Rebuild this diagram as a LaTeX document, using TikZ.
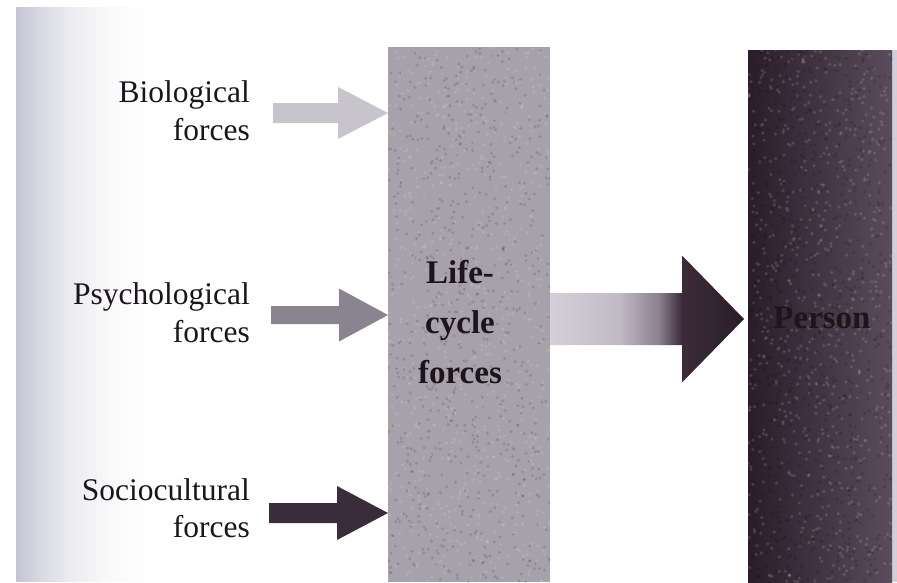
\documentclass[tikz,border=0pt]{standalone}
\usepackage{fontspec}
\setmainfont{Liberation Serif}
\usetikzlibrary{calc}
\definecolor{inkc}{HTML}{1C161B}
\definecolor{biocol}{HTML}{C8C4CC}
\definecolor{psycol}{HTML}{8A8490}
\definecolor{soccol}{HTML}{3A2C3A}
\definecolor{lifecol}{HTML}{A7A1AB}
\definecolor{perL}{HTML}{2B1C29}
\definecolor{perR}{HTML}{5A4C5C}
\definecolor{rightstrip}{HTML}{D2CED6}
\definecolor{edgeA}{HTML}{C4C4D4}
\definecolor{baA}{HTML}{D4D0D8}
\definecolor{baB}{HTML}{C0BAC4}
\definecolor{baC}{HTML}{8A8090}
\definecolor{baD}{HTML}{3C2C3A}
\definecolor{baE}{HTML}{2A1C28}
\pgfdeclarehorizontalshading{bigarrowshade}{100bp}{color(0bp)=(baA); color(25bp)=(baA); color(43bp)=(baB); color(53bp)=(baC); color(59bp)=(baD); color(75bp)=(baE); color(100bp)=(baE)}
% #1 style, #2 tip, #3 total length, #4 head length, #5 shaft half width, #6 head half width
\newcommand\blockarrow[6]{%
  \path[#1] ($(#2)+(-#3,-#5)$) -- ($(#2)+(-#4,-#5)$) -- ($(#2)+(-#4,-#6)$) -- (#2)
    -- ($(#2)+(-#4,#6)$) -- ($(#2)+(-#4,#5)$) -- ($(#2)+(-#3,#5)$) -- cycle;}
\begin{document}
\begin{tikzpicture}[x=1pt,y=-1pt,
  lbl/.style={font=\fontsize{31.5}{38}\selectfont, text=inkc, inner sep=0pt},
  boxlbl/.style={font=\fontsize{33}{50}\selectfont\bfseries, text=inkc, inner sep=0pt},
  panel/.style={rectangle, inner sep=0pt, anchor=north west},
  grain/.style={opacity=0.13},
]
\useasboundingbox (0,0) rectangle (897,582);
\fill[white] (0,0) rectangle (897,582);
% page edge shadow of the scan
\foreach \k in {0,...,59}{
  \pgfmathtruncatemacro\shadepct{100*(1-\k/60)^3}
  \fill[edgeA!\shadepct!white] (16+3*\k,7) rectangle (16+3*\k+3.4,582);
}
\fill[rightstrip] (891,50) rectangle (897,582);

% panels
\node[panel, fill=lifecol, minimum width=162pt, minimum height=535pt] (life) at (388,47) {};
\node[panel, left color=perL, right color=perR, minimum width=144pt, minimum height=532pt] (person) at (748,50) {};

% scan grain
\pgfmathsetseed{7}
\begin{scope}
  \clip (life.north west) rectangle (life.south east);
  \foreach \i in {1,...,700}{
    \pgfmathsetmacro\xx{388+162*rnd}\pgfmathsetmacro\yy{47+535*rnd}
    \fill[black, grain] (\xx,\yy) circle (1.6pt);
    \pgfmathsetmacro\xx{388+162*rnd}\pgfmathsetmacro\yy{47+535*rnd}
    \fill[white, grain] (\xx,\yy) circle (1.6pt);
  }
\end{scope}
\begin{scope}
  \clip (person.north west) rectangle (person.south east);
  \foreach \i in {1,...,700}{
    \pgfmathsetmacro\xx{748+144*rnd}\pgfmathsetmacro\yy{50+532*rnd}
    \fill[white, grain] (\xx,\yy) circle (1.8pt);
    \pgfmathsetmacro\xx{748+144*rnd}\pgfmathsetmacro\yy{50+532*rnd}
    \fill[black, grain] (\xx,\yy) circle (1.8pt);
  }
\end{scope}

% arrow tips
\coordinate (biotip) at ($(life.north west)+(0,66)$);
\coordinate (psytip) at ($(life.north west)+(0,268)$);
\coordinate (soctip) at ($(life.north west)+(0,466)$);
\coordinate (bigtip) at ($(person.north west)+(-4,269)$);

\blockarrow{fill=biocol}{biotip}{115}{50}{10}{26}
\blockarrow{fill=psycol}{psytip}{117}{49}{9}{26.5}
\blockarrow{fill=soccol}{soctip}{119}{51}{10}{27}
\blockarrow{shade, shading=bigarrowshade}{bigtip}{194}{62}{26}{63.5}

% labels
\node[lbl, anchor=base east] (bio1) at (250,102) {Biological};
\node[lbl, anchor=base east] (bio2) at (250,140) {forces};
\node[lbl, anchor=base east] (psy1) at (250,304) {Psychological};
\node[lbl, anchor=base east] (psy2) at (250,342) {forces};
\node[lbl, anchor=base east] (soc1) at (250,500) {Sociocultural};
\node[lbl, anchor=base east] (soc2) at (250,537) {forces};

\node[boxlbl, align=center] (lifetxt) at (460,322) {Life-\\cycle\\forces};
\node[boxlbl, anchor=base] (persontxt) at (822,328) {Person};
\end{tikzpicture}
\end{document}
